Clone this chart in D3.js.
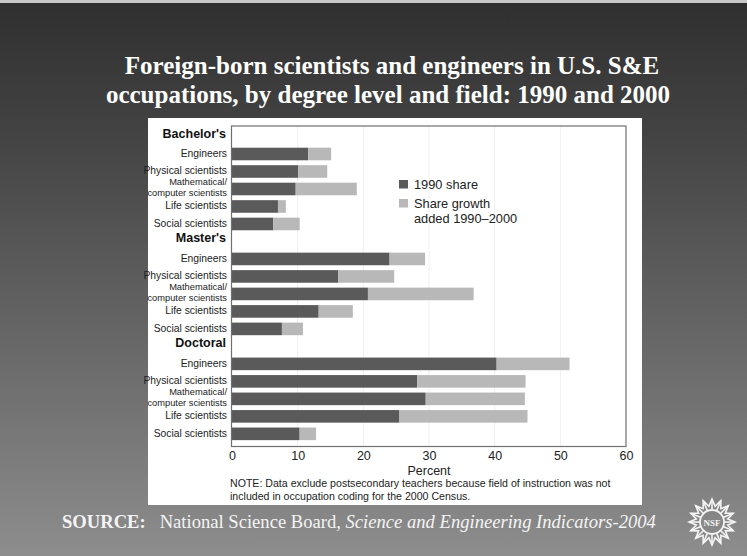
<!DOCTYPE html>
<html>
<head>
<meta charset="utf-8">
<script src="https://cdn.jsdelivr.net/npm/d3@7"></script>
<style>
  body { margin: 0; padding: 0; overflow: hidden; }
  svg { display: block; }
</style>
</head>
<body>
<script>
// Width and height
var w = 747;
var h = 556;

// Data
var levels = ["Bachelor's", "Master's", "Doctoral"];
var fields = ["Engineers", "Physical scientists", "Mathematical/|computer scientists", "Life scientists", "Social scientists"];
var share1990 = [
  [11.6, 10.1, 9.7, 7.0, 6.3],
  [24.0, 16.2, 20.7, 13.2, 7.6],
  [40.3, 28.2, 29.5, 25.5, 10.3]
];
var growth = [
  [3.5, 4.4, 9.3, 1.2, 4.0],
  [5.4, 8.5, 16.1, 5.2, 3.2],
  [11.1, 16.5, 15.1, 19.5, 2.5]
];
var xTicks = [0, 10, 20, 30, 40, 50, 60];
var legendLabels = [["1990 share"], ["Share growth", "added 1990\u20132000"]];

var colors = ["#5a5a5a", "#b8b8b8"];
var sans = "'Liberation Sans', Arial, sans-serif";
var serif = "'Liberation Serif', 'Times New Roman', serif";

// Rows: a header row for each level, then its five fields
var rows = [];
levels.forEach(function (lv, i) {
  rows.push({ key: "h" + i, header: lv });
  fields.forEach(function (f, j) {
    rows.push({ key: i + "-" + j, field: f, v1: share1990[i][j], v2: growth[i][j] });
  });
});

var svg = d3.select("body").append("svg")
  .attr("width", w)
  .attr("height", h);

// Background gradient
var defs = svg.append("defs");
var grad = defs.append("linearGradient")
  .attr("id", "bg").attr("x1", 0).attr("y1", 0).attr("x2", 0).attr("y2", 1);
grad.append("stop").attr("offset", "0%").attr("stop-color", "#2f2f2f");
grad.append("stop").attr("offset", "25%").attr("stop-color", "#444444");
grad.append("stop").attr("offset", "60%").attr("stop-color", "#666666");
grad.append("stop").attr("offset", "100%").attr("stop-color", "#8d8d8d");

svg.append("rect").attr("width", w).attr("height", h).attr("fill", "url(#bg)");
svg.append("rect").attr("width", w).attr("height", 3).attr("fill", "#c8c8c8");

// Title
var title = svg.append("text")
  .attr("text-anchor", "middle")
  .attr("fill", "#ffffff")
  .style("font-family", serif)
  .style("font-weight", "bold")
  .style("font-size", "25px");
title.append("tspan").attr("x", 392).attr("y", 74).text("Foreign-born scientists and engineers in U.S. S&E");
title.append("tspan").attr("x", 388).attr("y", 103).text("occupations, by degree level and field: 1990 and 2000");

// White panel
svg.append("rect")
  .attr("x", 148).attr("y", 118)
  .attr("width", 494).attr("height", 387)
  .attr("fill", "#ffffff");

// Scales
var x = d3.scaleLinear().domain([0, 60]).range([232, 626]);
var step = 17.49;
var y = d3.scaleBand()
  .domain(rows.map(function (d) { return d.key; }))
  .range([154 - step * 1.5, 154 + step * 16.5])
  .paddingInner(0.28)
  .paddingOuter(0.14);

var frameTop = 126, frameBottom = 446.5;

// Faint grid
svg.append("g").selectAll("line")
  .data(xTicks.slice(1, -1))
  .enter().append("line")
  .attr("x1", function (d) { return x(d); })
  .attr("x2", function (d) { return x(d); })
  .attr("y1", frameTop).attr("y2", frameBottom)
  .attr("stroke", "#efefef").attr("stroke-width", 1);

// Bars
var barRows = rows.filter(function (d) { return !d.header; });
var bars = svg.append("g");
bars.selectAll("rect.b1990")
  .data(barRows)
  .enter().append("rect")
  .attr("class", "b1990")
  .attr("x", x(0))
  .attr("y", function (d) { return y(d.key); })
  .attr("width", function (d) { return x(d.v1) - x(0); })
  .attr("height", y.bandwidth())
  .attr("fill", colors[0]);
bars.selectAll("rect.bgrow")
  .data(barRows)
  .enter().append("rect")
  .attr("class", "bgrow")
  .attr("x", function (d) { return x(d.v1); })
  .attr("y", function (d) { return y(d.key); })
  .attr("width", function (d) { return x(d.v1 + d.v2) - x(d.v1); })
  .attr("height", y.bandwidth())
  .attr("fill", colors[1]);

// Frame
svg.append("rect")
  .attr("x", x(0) - 0.5).attr("y", frameTop)
  .attr("width", x(60) - x(0) + 0.5).attr("height", frameBottom - frameTop)
  .attr("fill", "none").attr("stroke", "#707070").attr("stroke-width", 1.2);

// Row labels
var labels = svg.append("g").attr("text-anchor", "end");
rows.forEach(function (d) {
  var cy = y(d.key) + y.bandwidth() / 2;
  if (d.header) {
    labels.append("text")
      .attr("x", 226).attr("y", cy + 1)
      .style("font-family", sans).style("font-weight", "bold").style("font-size", "12.5px")
      .attr("fill", "#111")
      .text(d.header);
  } else {
    var parts = d.field.split("|");
    if (parts.length === 1) {
      labels.append("text")
        .style("font-family", sans).style("font-size", "10.3px").attr("fill", "#222")
        .attr("x", 227).attr("y", cy + 3).text(parts[0]);
    } else {
      // two-line label, slightly smaller so the lines don't collide
      var t = labels.append("text")
        .style("font-family", sans).style("font-size", "9.3px").attr("fill", "#222");
      t.append("tspan").attr("x", 227).attr("y", cy - 3.5).text(parts[0]);
      t.append("tspan").attr("x", 227).attr("y", cy + 7).text(parts[1]);
    }
  }
});

// X axis
var xAxis = d3.axisBottom(x).tickValues(xTicks).tickSize(0).tickPadding(5);
var ax = svg.append("g")
  .attr("transform", "translate(0," + frameBottom + ")")
  .call(xAxis);
ax.select(".domain").remove();
ax.selectAll("text")
  .style("font-family", sans).style("font-size", "12.5px").attr("fill", "#222");

svg.append("text")
  .attr("x", x(30)).attr("y", 475)
  .attr("text-anchor", "middle")
  .style("font-family", sans).style("font-size", "12.5px").attr("fill", "#222")
  .text("Percent");

// Legend
var legend = svg.append("g").attr("transform", "translate(399,180)");
legendLabels.forEach(function (lines, i) {
  var g = legend.append("g").attr("transform", "translate(0," + (i * 19) + ")");
  g.append("rect")
    .attr("width", 9).attr("height", 8.5)
    .attr("fill", colors[i]);
  var t = g.append("text")
    .style("font-family", sans).style("font-size", "12.8px").attr("fill", "#222");
  lines.forEach(function (l, k) {
    t.append("tspan").attr("x", 15).attr("y", 9 + k * 14.5).text(l);
  });
});

// Note
var note = svg.append("text")
  .style("font-family", sans).style("font-size", "10.6px").attr("fill", "#222");
note.append("tspan").attr("x", 230).attr("y", 487)
  .text("NOTE: Data exclude postsecondary teachers because field of instruction was not");
note.append("tspan").attr("x", 230).attr("y", 500)
  .text("included in occupation coding for the 2000 Census.");

// Source line
var src = svg.append("text")
  .attr("x", 62).attr("y", 528)
  .attr("fill", "#f4f4f4")
  .style("font-family", serif).style("font-size", "18.6px");
src.append("tspan").style("font-weight", "bold").text("SOURCE:");
src.append("tspan").attr("dx", 14).text("National Science Board, ");
src.append("tspan").style("font-style", "italic").text("Science and Engineering Indicators-2004");

// NSF emblem
var logo = svg.append("g")
  .attr("transform", "translate(712,522)")
  .attr("stroke", "#f4f4f4").attr("fill", "none").attr("stroke-width", 1.6);
var nPts = 16;
var ang = d3.range(nPts).map(function (i) { return i * 2 * Math.PI / nPts; });
logo.selectAll("line.spoke")
  .data(ang).enter().append("line")
  .attr("x1", function (a) { return 12 * Math.cos(a); })
  .attr("y1", function (a) { return 12 * Math.sin(a); })
  .attr("x2", function (a) { return 23 * Math.cos(a); })
  .attr("y2", function (a) { return 23 * Math.sin(a); });
var ring = [];
ang.forEach(function (a, i) {
  ring.push([23 * Math.cos(a), 23 * Math.sin(a)]);
  var b = a + Math.PI / nPts;
  ring.push([16 * Math.cos(b), 16 * Math.sin(b)]);
});
logo.append("path").attr("d", d3.line()(ring) + "Z");
logo.append("circle").attr("r", 12).attr("stroke-width", 1.8);
logo.append("text")
  .attr("text-anchor", "middle").attr("y", 3.5)
  .attr("stroke", "none").attr("fill", "#f4f4f4")
  .style("font-family", serif).style("font-size", "9px").style("font-weight", "bold")
  .text("NSF");
</script>
</body>
</html>
